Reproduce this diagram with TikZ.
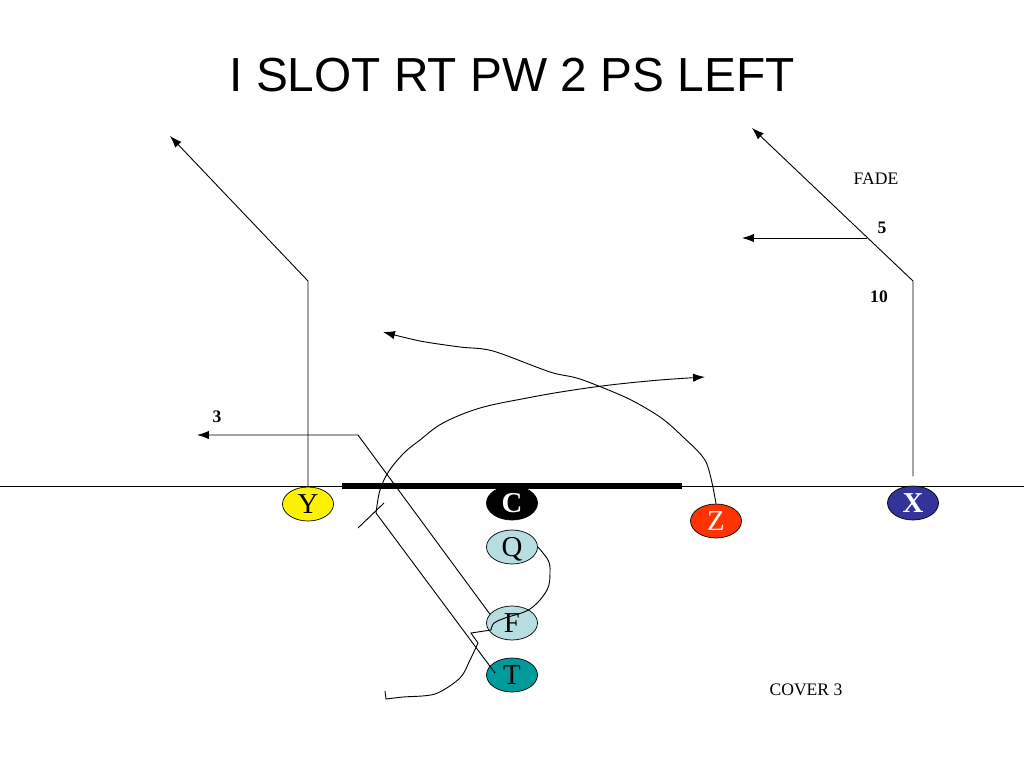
\documentclass[tikz,border=0pt]{standalone}
\usepackage{fontspec}
\setmainfont{Liberation Serif}
\newfontfamily\titlefont{Liberation Sans}
\usepackage{xcolor}
\usetikzlibrary{shapes.geometric}
\usetikzlibrary{arrows.meta}

\definecolor{zred}{HTML}{FF3300}
\definecolor{xblue}{HTML}{333399}
\definecolor{backblue}{HTML}{B7DDE0}
\definecolor{tteal}{HTML}{009A9A}

\tikzset{
  player/.style={ellipse, draw=black, line width=0.5pt, inner sep=0pt,
    minimum width=12.75mm, minimum height=8.5mm,
    font=\fontsize{20.5}{20.5}\selectfont},
  route/.style={line width=0.65pt, -{Latex[length=8.5pt,width=6pt]}},
  trail/.style={line width=0.65pt},
  tag/.style={font=\fontsize{12.5}{12.5}\selectfont},
}
\newcommand{\plyr}[1]{\smash{\raisebox{-0.33em}{#1}}}

\begin{document}
\begin{tikzpicture}[x=0.25mm, y=-0.25mm]
\useasboundingbox (0,0) rectangle (1024,768);

\node [font=\titlefont\fontsize{34}{34}\selectfont] (title) at (512,75)
    {I SLOT RT PW 2 PS LEFT};

% line of scrimmage
\coordinate (losL) at (0,486);
\coordinate (losR) at (1024,486);
\coordinate (barL) at (342,486);
\coordinate (barR) at (682,486);
\draw [line width=0.6pt] (losL) -- (losR);
\draw [line width=4.3pt] (barL) -- (barR);

% players
\node [player, fill=yellow] (Y) at (308,504) {\plyr{Y}};
\node [player, fill=black, text=white, font=\fontsize{20.5}{20.5}\selectfont\bfseries]
    (C) at (512,503) {\plyr{C}};
\node [player, fill=zred, text=white] (Z) at (716,521) {\plyr{Z}};
\node [player, fill=xblue, text=white, font=\fontsize{20.5}{20.5}\selectfont\bfseries]
    (X) at (913,503) {\plyr{X}};
\node [player, fill=backblue] (Q) at (512,547) {\plyr{Q}};
\node [player, fill=backblue] (F) at (512,623) {\plyr{F}};
\node [player, fill=tteal] (T) at (512,675) {\plyr{T}};

% Y route
\coordinate (Ybreak) at (308,281);
\coordinate (Yend) at (170,136);
\draw [route] (Y.north) -- (Ybreak) -- (Yend);

% X route
\coordinate (Xbreak) at (913,281);
\coordinate (Xend) at (752,128);
\coordinate (Xcut) at (867,238);
\coordinate (Xout) at (742,238);
\draw [route, shorten <=2.3mm] (X.north) -- (Xbreak) -- (Xend);
\draw [route] (Xcut) -- (Xout);
\node [tag] (fade) at (876,179) {FADE};
\node [tag, font=\fontsize{12.5}{12.5}\selectfont\bfseries] (five) at (882,228) {5};
\node [tag, font=\fontsize{12.5}{12.5}\selectfont\bfseries] (ten) at (879,297) {10};

% F route
\coordinate (Fcorner) at (358,435);
\coordinate (Fend) at (197,435);
\draw [route] (F.158) -- (Fcorner) -- (Fend);
\node [tag, font=\fontsize{12.5}{12.5}\selectfont\bfseries] (three) at (217,417) {3};

% T route with block and release
\coordinate (Tin) at (495,673);
\coordinate (Tblock) at (376,513);
\coordinate (blockA) at (358,528);
\coordinate (blockB) at (384,503);
\draw [trail] (Tin) -- (Tblock);
\draw [trail] (blockA) -- (blockB);
\draw [route] plot [smooth, tension=0.6] coordinates {(Tblock) (380,490)
    (389,471) (404,453) (420,440) (443,423) (480,408) (527,398) (567,391)
    (610,385) (660,380) (705,377)};

% Z route
\draw [route] plot [smooth, tension=0.5] coordinates {(Z.north) (706,462)
    (682,436) (660,417) (627,398) (580,379) (550,372) (493,351) (460,347)
    (420,341) (383,332)};

% Q fake and boot
\draw [trail] plot [smooth, tension=0.6] coordinates {(Q.east) (548,560)
    (550,572) (547,590) (530,609) (505,618) (494,623) (491,630)};
\draw [trail] (491,630) -- (471,633) -- (478,643)
    plot [smooth, tension=0.5] coordinates {(478,643) (470,660) (460,678)
    (435,694) (403,697) (386,699)} -- (385,691);

\node [tag] (cover) at (806,690) {COVER 3};
\end{tikzpicture}
\end{document}
